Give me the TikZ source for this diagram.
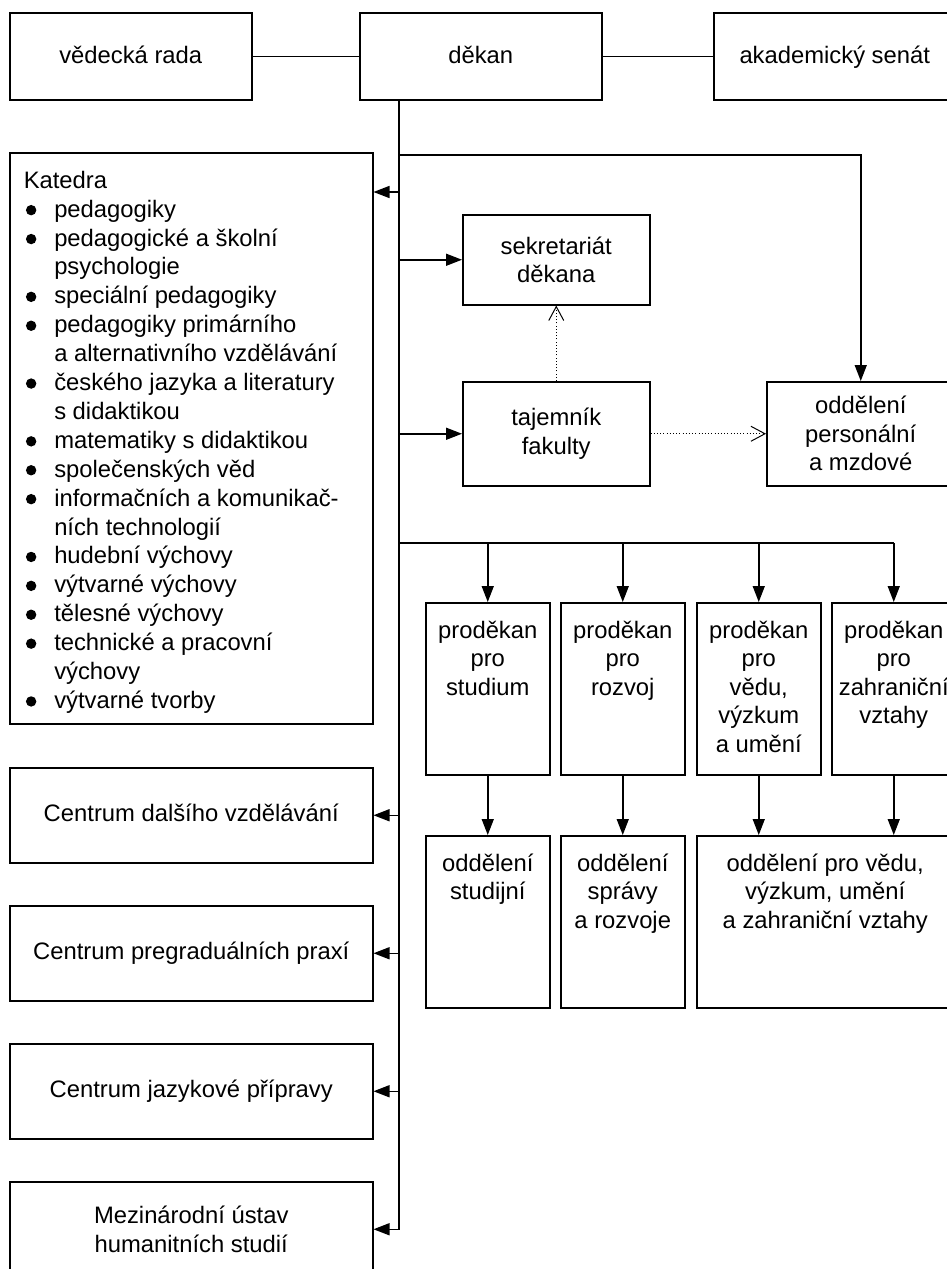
\documentclass[tikz,border=0pt]{standalone}
\usepackage{fontspec}
\setmainfont{Liberation Sans}
\usetikzlibrary{arrows.meta,calc}
\newcommand{\tbx}[3]{\parbox[t][#2][t]{#1}{\centering\rule{0pt}{35.5pt}#3}}
\newcommand{\kb}{\makebox[30.5pt][l]{\hspace{2.2pt}\tikz[baseline=-7pt]\fill (0,0) circle (5.2pt);}}
\begin{document}
\begin{tikzpicture}[x=1pt,y=-1pt,
  every node/.style={font=\fontsize{23.8pt}{28.5pt}\selectfont},
  box/.style={draw, line width=1.5pt, inner sep=0pt, anchor=north west},
  cbox/.style={box, align=center},
  onel/.style={text height=17pt, text depth=5pt},
  topl/.style={text height=17pt, text depth=2pt},
  ln/.style={line width=1.5pt},
  arr/.style={ln, -{Triangle[length=16pt,width=12pt]}},
  dots/.style={line width=1pt, dash pattern=on 1pt off 2.2pt, -{Straight Barb[length=14pt,width=15pt,line width=1pt]}}]
\useasboundingbox (0,0) rectangle (947,1269);
% top row
\node[cbox, topl, minimum width=242pt, minimum height=87pt] (vr) at (9,12) {vědecká rada};
\node[cbox, topl, minimum width=242pt, minimum height=87pt] (dekan) at (359,12) {děkan};
\node[cbox, topl, minimum width=242pt, minimum height=87pt] (senat) at (713,12) {akademický senát};
% katedra
\node[box] (katedra) at (9,152) {\parbox[t][571pt][t]{363pt}{\fontsize{23.8pt}{28.9pt}\selectfont\rule{0pt}{35.5pt}\hspace*{14pt}\begin{tabular}[t]{@{}l@{}l@{}}
\multicolumn{2}{@{}l@{}}{Katedra}\\
\kb & pedagogiky\\
\kb & pedagogické a školní\\
 & psychologie\\
\kb & speciální pedagogiky\\
\kb & pedagogiky primárního\\
 & a alternativního vzdělávání\\
\kb & českého jazyka a literatury\\
 & s didaktikou\\
\kb & matematiky s didaktikou\\
\kb & společenských věd\\
\kb & informačních a komunikač-\\
 & ních technologií\\
\kb & hudební výchovy\\
\kb & výtvarné výchovy\\
\kb & tělesné výchovy\\
\kb & technické a pracovní\\
 & výchovy\\
\kb & výtvarné tvorby
\end{tabular}}};
% centre column
\node[cbox, minimum width=187pt, minimum height=90pt] (sek) at (462,214) {sekretariát\\děkana};
\node[cbox, minimum width=187pt, minimum height=104pt] (taj) at (462,381) {tajemník\\fakulty};
\node[cbox, minimum width=188pt, minimum height=104pt] (odpers) at (766,381) {oddělení\\personální\\a mzdové};
% proděkani
\node[box] (pd1) at (425,602) {\tbx{124pt}{172pt}{proděkan\\pro\\studium}};
\node[box] (pd2) at (560,602) {\tbx{124pt}{172pt}{proděkan\\pro\\rozvoj}};
\node[box] (pd3) at (696,602) {\tbx{124pt}{172pt}{proděkan\\pro\\vědu,\\výzkum\\a umění}};
\node[box] (pd4) at (831,602) {\tbx{124pt}{172pt}{proděkan\\pro\\zahraniční\\vztahy}};
\node[box] (od1) at (425,835) {\tbx{124pt}{172pt}{oddělení\\studijní}};
\node[box] (od2) at (560,835) {\tbx{124pt}{172pt}{oddělení\\správy\\a rozvoje}};
\node[box] (od3) at (696,835) {\tbx{257pt}{172pt}{oddělení pro vědu,\\výzkum, umění\\a zahraniční vztahy}};
% centra
\node[cbox, onel, minimum width=363pt, minimum height=95pt] (c1) at (9,767) {Centrum dalšího vzdělávání};
\node[cbox, onel, minimum width=363pt, minimum height=95pt] (c2) at (9,905) {Centrum pregraduálních praxí};
\node[cbox, onel, minimum width=363pt, minimum height=95pt] (c3) at (9,1043) {Centrum jazykové přípravy};
\node[cbox, minimum width=363pt, minimum height=95pt] (mez) at (9,1181) {Mezinárodní ústav\\humanitních studií};
% connectors
\coordinate (tx) at (399,0);
\coordinate (h1) at (399,155);
\coordinate (h2) at (399,543);
\coordinate (katin) at ($(katedra.north east)+(0,40)$);
\draw[ln] (vr.east) -- (dekan.west);
\draw[ln] (dekan.east) -- (senat.west);
\draw[arr] (dekan.south -| tx) -- (tx |- mez.east) -- (mez.east);
\draw[arr] (tx |- katin) -- (katin);
\draw[arr] (tx |- sek.west) -- (sek.west);
\draw[arr] (tx |- taj.west) -- (taj.west);
\draw[arr] (tx |- c1.east) -- (c1.east);
\draw[arr] (tx |- c2.east) -- (c2.east);
\draw[arr] (tx |- c3.east) -- (c3.east);
\draw[arr] (h1) -- (h1 -| odpers.north) -- (odpers.north);
\draw[ln] (h2) -- (h2 -| pd4.north);
\draw[arr] (h2 -| pd1.north) -- (pd1.north);
\draw[arr] (h2 -| pd2.north) -- (pd2.north);
\draw[arr] (h2 -| pd3.north) -- (pd3.north);
\draw[arr] (h2 -| pd4.north) -- (pd4.north);
\draw[arr] (pd1.south) -- (od1.north);
\draw[arr] (pd2.south) -- (od2.north);
\draw[arr] (pd3.south) -- (pd3.south |- od3.north);
\draw[arr] (pd4.south) -- (pd4.south |- od3.north);
\draw[dots] (taj.north) -- (sek.south);
\draw[dots] (taj.east) -- (odpers.west);
\end{tikzpicture}
\end{document}
